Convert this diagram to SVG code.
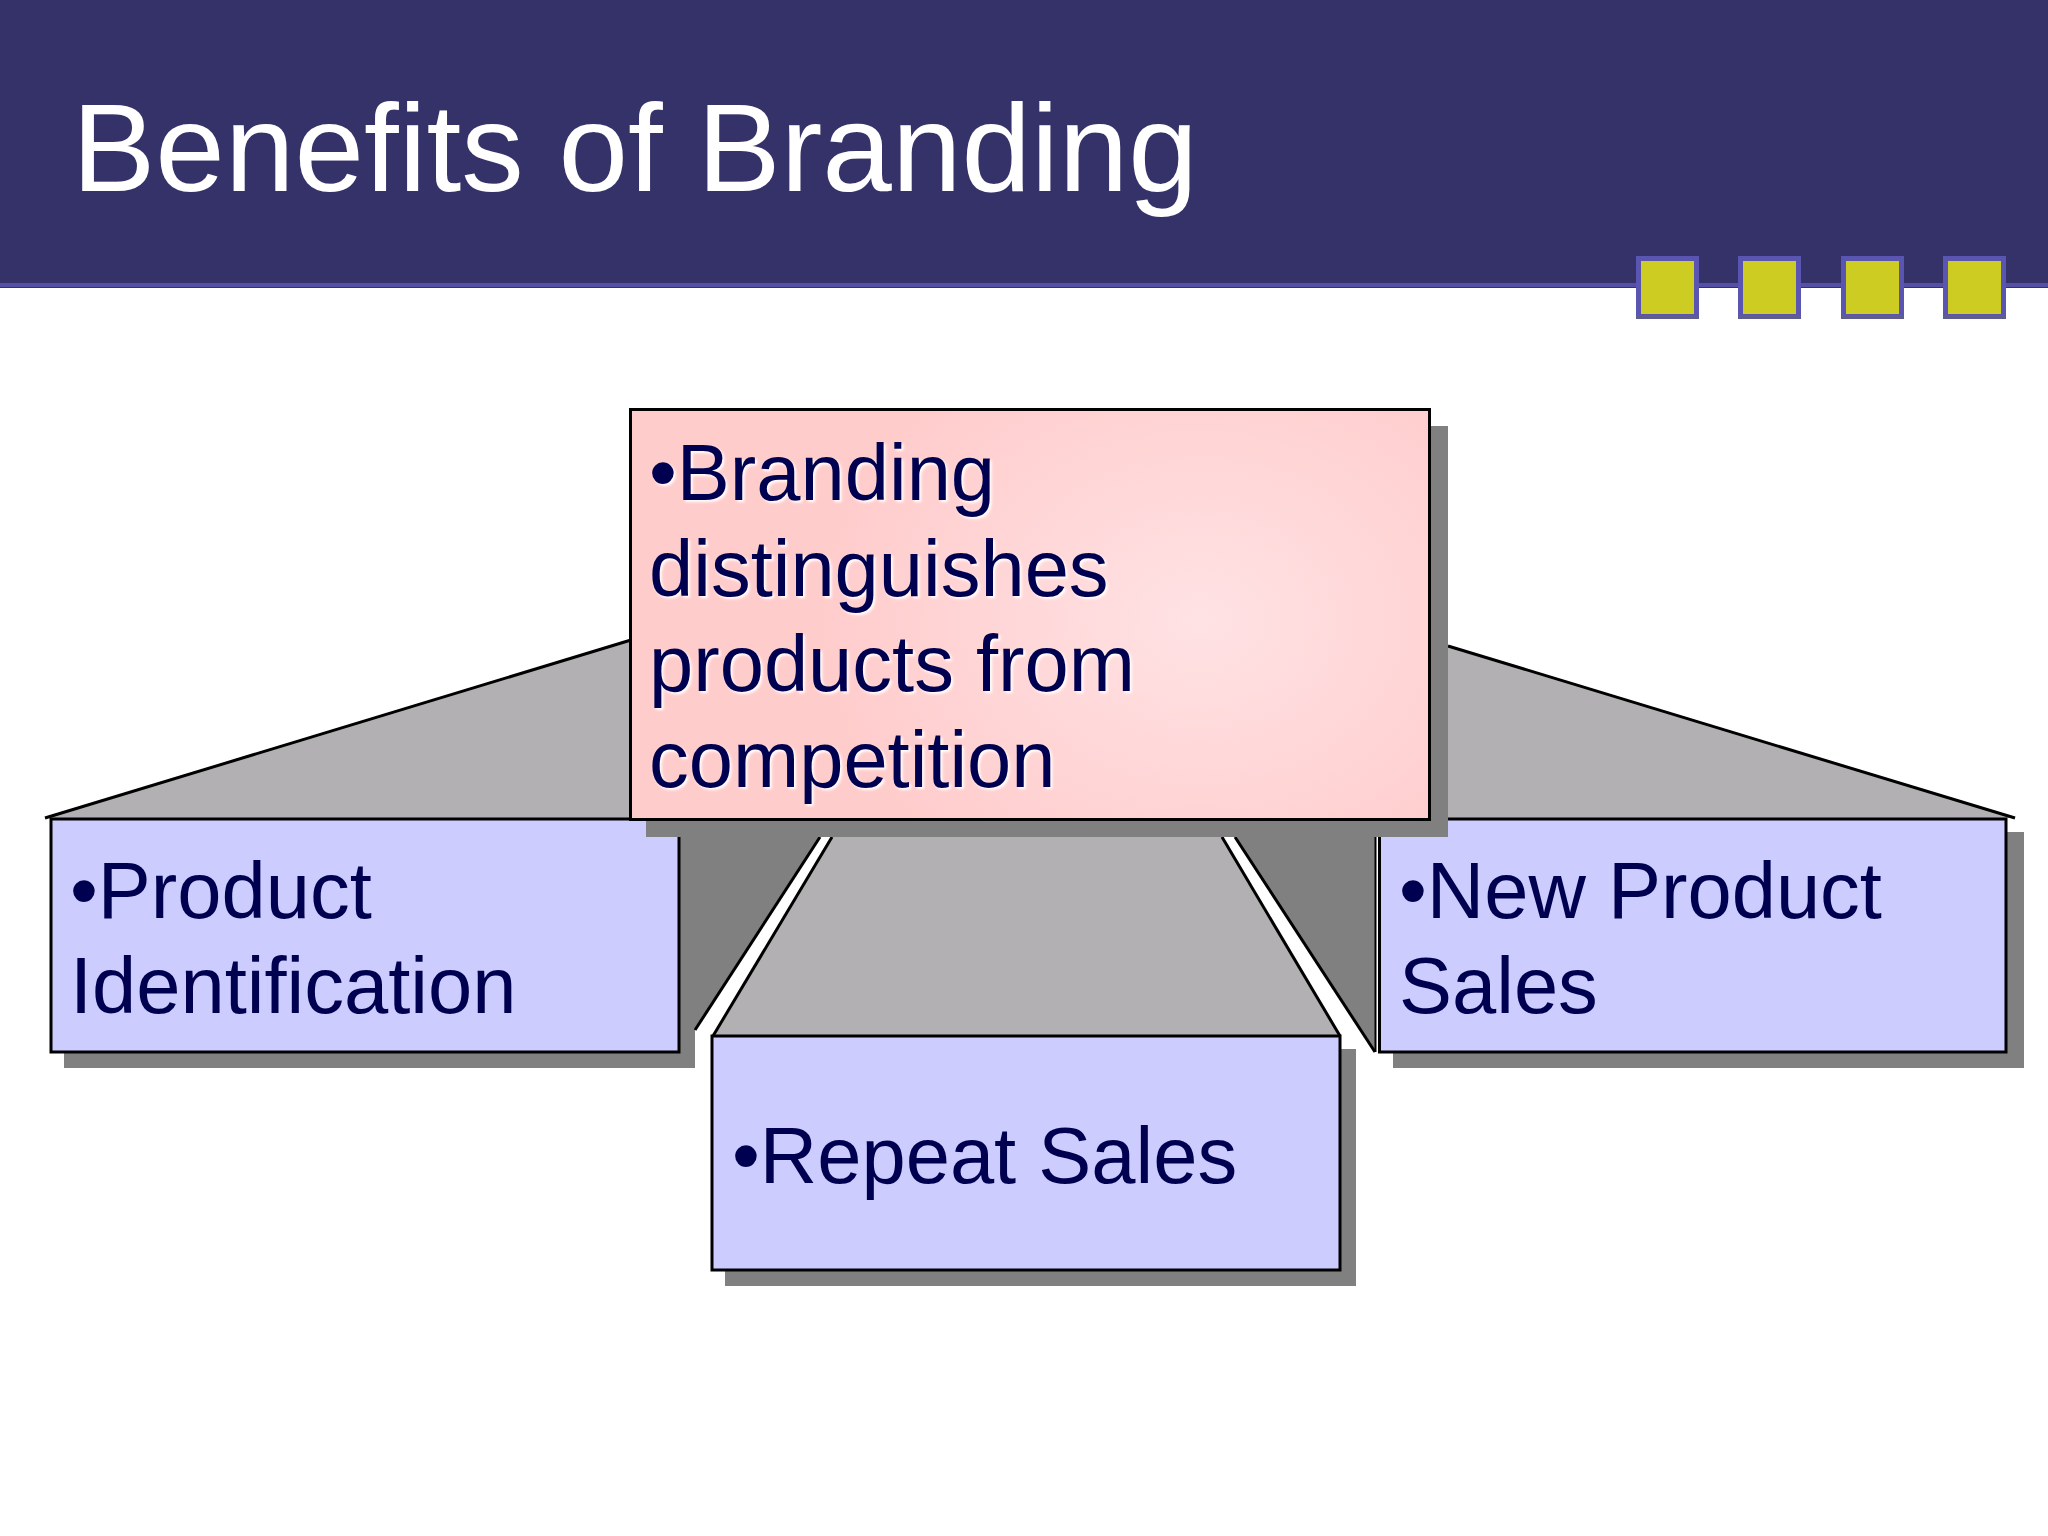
<svg xmlns="http://www.w3.org/2000/svg" width="2048" height="1536" viewBox="0 0 2048 1536">
<defs>
<radialGradient id="pink" gradientUnits="userSpaceOnUse" cx="1200" cy="620" r="380" gradientTransform="translate(1200 620) scale(1 .8) translate(-1200 -620)">
<stop offset="0" stop-color="#ffe2e4"/><stop offset="1" stop-color="#ffcccc"/>
</radialGradient>
</defs>
<style>
text{font-family:"Liberation Sans",Arial,sans-serif;}
.body{font-size:79.5px;fill:#000050;}
.glow{text-shadow:2px 2px 3px #ffffff;}
.box{fill:#ccccff;stroke:#000;stroke-width:3;}
.shadow{fill:#808080;}
.wedge{fill:#b2b0b2;}
.edge{fill:none;stroke:#000;stroke-width:3;}
.sq{fill:#cccc22;stroke:#5a55b0;stroke-width:5;}
.sqb{fill:#5f5c90;}
</style>
<rect width="2048" height="1536" fill="#fff"/>
<g id="header">
<rect x="0" y="0" width="2048" height="288" fill="#35326a"/>
<rect x="0" y="283" width="2048" height="4" fill="#5450a8"/>
<rect class="sq" x="1638.500" y="258.500" width="58" height="58"/>
<rect class="sqb" x="1636" y="315" width="63" height="4"/>
<rect class="sq" x="1740.500" y="258.500" width="58" height="58"/>
<rect class="sqb" x="1738" y="315" width="63" height="4"/>
<rect class="sq" x="1843.500" y="258.500" width="58" height="58"/>
<rect class="sqb" x="1841" y="315" width="63" height="4"/>
<rect class="sq" x="1945.500" y="258.500" width="58" height="58"/>
<rect class="sqb" x="1943" y="315" width="63" height="4"/>
<text x="72" y="191" font-size="125" fill="#fff">Benefits of Branding</text>
</g>
<g id="connectors">
<polygon class="wedge" points="45,818 631,640 631,818"/>
<polyline class="edge" points="45,818 631,640"/>
<polygon class="wedge" points="1448,646 2015,818 1448,818"/>
<polyline class="edge" points="1448,646 2015,818"/>
<polygon class="shadow" points="679,837 820,837 695,1030 695,1068 679,1068"/>
<polyline class="edge" points="695,1030 820,837"/>
<polygon class="shadow" points="1235,837 1376,837 1376,1052"/>
<polyline class="edge" points="1235,837 1375,1052"/>
<polyline class="edge" style="stroke-width:2" points="1375.500,1052 1375.500,837"/>
<polygon class="wedge" points="713,1036 832,837 1222,837 1340,1036"/>
<polyline class="edge" points="713,1036 832,837"/>
<polyline class="edge" points="1222,837 1340,1036"/>
</g>
<g id="node-product-identification">
<rect class="shadow" x="64" y="832" width="630" height="236"/>
<rect class="box" x="51" y="819" width="628" height="233"/>
<text class="body" x="70" y="918">•Product</text>
<text class="body" x="70" y="1013">Identification</text>
</g>
<g id="node-new-product-sales">
<rect class="shadow" x="1393" y="832" width="631" height="236"/>
<rect class="box" x="1379.500" y="819" width="626.500" height="233"/>
<text class="body" x="1399" y="918">•New Product</text>
<text class="body" x="1399" y="1013">Sales</text>
</g>
<g id="node-repeat-sales">
<rect class="shadow" x="725" y="1049" width="631" height="237"/>
<rect class="box" x="712" y="1036" width="628" height="234"/>
<text class="body" x="732" y="1183">•Repeat Sales</text>
</g>
<g id="node-branding">
<rect class="shadow" x="646" y="426" width="802" height="411"/>
<rect x="630.500" y="409.500" width="799" height="410" fill="url(#pink)" stroke="#000" stroke-width="3"/>
<text class="body glow" x="649" y="500">•Branding</text>
<text class="body glow" x="649" y="596">distinguishes</text>
<text class="body glow" x="649" y="691">products from</text>
<text class="body glow" x="649" y="787">competition</text>
</g>
</svg>
